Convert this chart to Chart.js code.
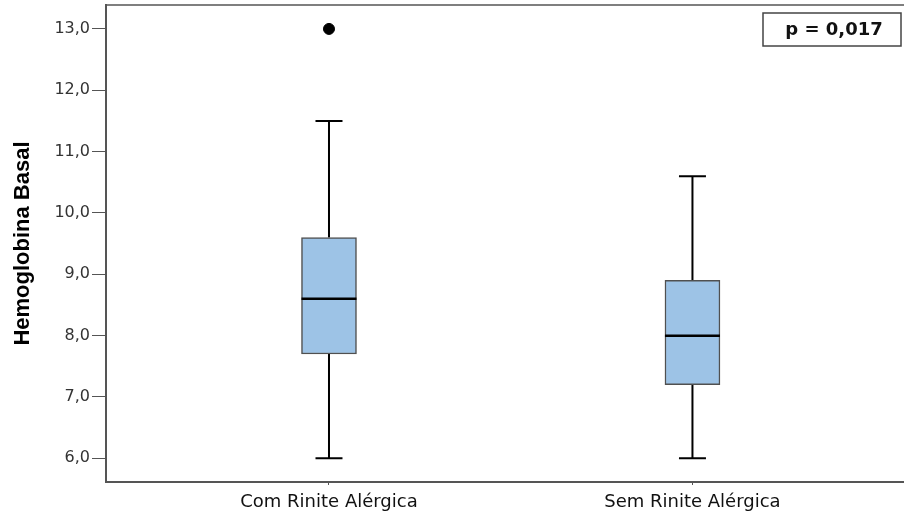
<!DOCTYPE html>
<html>
<head>
<meta charset="utf-8">
<script src="https://cdn.jsdelivr.net/npm/chart.js@4.4.1/dist/chart.umd.min.js"></script>
<style>
  html, body { margin: 0; padding: 0; background: #fff; }
  #wrap { width: 904px; height: 517px; }
</style>
</head>
<body>
<div id="wrap"><canvas id="boxChart" width="904" height="517"></canvas></div>
<script>
// box plot values
const categories = ['Com Rinite Alérgica', 'Sem Rinite Alérgica'];
const whiskerLow = [6.0, 6.0];
const q1 = [7.7, 7.2];
const medians = [8.6, 8.0];
const q3 = [9.6, 8.9];
const whiskerHigh = [11.5, 10.6];
const outliers = [[13.0], []];
const yTicks = [6, 7, 8, 9, 10, 11, 12, 13];
const pValueText = 'p = 0,017';

// whiskers, medians, top frame line and the p-value box
const boxExtras = {
  id: 'boxExtras',
  beforeDatasetsDraw(chart) {
    const { ctx, scales: { x, y } } = chart;
    ctx.save();
    ctx.strokeStyle = '#000';
    ctx.lineWidth = 2;
    categories.forEach((c, i) => {
      const px = x.getPixelForValue(i + 1);
      ctx.beginPath();
      ctx.moveTo(px, y.getPixelForValue(whiskerHigh[i]));
      ctx.lineTo(px, y.getPixelForValue(q3[i]));
      ctx.moveTo(px, y.getPixelForValue(q1[i]));
      ctx.lineTo(px, y.getPixelForValue(whiskerLow[i]));
      [whiskerHigh[i], whiskerLow[i]].forEach(v => {
        const py = y.getPixelForValue(v);
        ctx.moveTo(px - 13.5, py);
        ctx.lineTo(px + 13.5, py);
      });
      ctx.stroke();
    });
    ctx.restore();
  },
  afterDatasetsDraw(chart) {
    const { ctx, scales: { x, y } } = chart;
    const bars = chart.getDatasetMeta(0).data;
    ctx.save();
    ctx.strokeStyle = '#000';
    ctx.lineWidth = 2.5;
    categories.forEach((c, i) => {
      const px = x.getPixelForValue(i + 1);
      const half = bars[i].width / 2;
      const py = y.getPixelForValue(medians[i]);
      ctx.beginPath();
      ctx.moveTo(px - half, py);
      ctx.lineTo(px + half, py);
      ctx.stroke();
    });
    ctx.restore();
  },
  afterDraw(chart) {
    const { ctx, chartArea: a } = chart;
    ctx.save();
    ctx.strokeStyle = '#555';
    ctx.lineWidth = 1.5;
    ctx.beginPath();
    ctx.moveTo(a.left, a.top);
    ctx.lineTo(a.right, a.top);
    ctx.stroke();

    ctx.strokeStyle = '#444';
    ctx.strokeRect(a.right - 141, a.top + 8, 138, 33);
    ctx.fillStyle = '#111';
    ctx.font = 'bold 18px "DejaVu Sans"';
    ctx.textAlign = 'center';
    ctx.textBaseline = 'middle';
    ctx.fillText(pValueText, a.right - 70, a.top + 25);
    ctx.restore();
  }
};

const ctx = document.getElementById('boxChart').getContext('2d');

new Chart(ctx, {
  type: 'bar',
  data: {
    datasets: [
      {
        label: 'IQR',
        data: categories.map((c, i) => ({ x: i + 1, y: [q1[i], q3[i]] })),
        backgroundColor: '#9dc3e6',
        borderColor: '#505050',
        borderWidth: 1.5,
        borderSkipped: false,
        barThickness: 55
      },
      {
        type: 'scatter',
        label: 'Outliers',
        data: outliers.flatMap((list, i) => list.map(v => ({ x: i + 1, y: v }))),
        backgroundColor: '#000',
        borderColor: '#000',
        pointRadius: 5.5,
        pointHoverRadius: 5.5
      }
    ]
  },
  options: {
    responsive: false,
    animation: false,
    devicePixelRatio: 1,
    layout: { autoPadding: false, padding: { top: 5, right: 0, bottom: 0, left: 0 } },
    plugins: {
      legend: { display: false },
      tooltip: { enabled: false }
    },
    scales: {
      x: {
        type: 'linear',
        offset: false,
        min: 0.3865,
        max: 2.582,
        afterBuildTicks: scale => { scale.ticks = categories.map((c, i) => ({ value: i + 1 })); },
        afterFit: scale => { scale.height = 35; scale.paddingLeft = 0; scale.paddingRight = 0; },
        grid: { offset: false, drawOnChartArea: false, drawTicks: true, tickLength: 3, color: '#555' },
        border: { display: true, color: '#555', width: 2 },
        ticks: {
          callback: v => categories[v - 1],
          padding: 7,
          maxRotation: 0,
          color: '#111',
          font: { family: 'DejaVu Sans', size: 18 }
        }
      },
      y: {
        min: 5.614,
        max: 13.39,
        afterBuildTicks: scale => { scale.ticks = yTicks.map(v => ({ value: v })); },
        afterFit: scale => { scale.width = 106; scale.paddingTop = 0; scale.paddingBottom = 0; },
        grid: { drawOnChartArea: false, drawTicks: true, tickLength: 14, color: '#555' },
        border: { display: true, color: '#555', width: 2 },
        ticks: {
          callback: v => v.toFixed(1).replace('.', ','),
          padding: 2,
          color: '#333',
          font: { family: 'DejaVu Sans', size: 16 }
        },
        title: {
          display: true,
          text: 'Hemoglobina Basal',
          color: '#000',
          font: { family: 'Liberation Sans', size: 22, weight: 'bold' },
          padding: { top: 10, bottom: 0 }
        }
      }
    }
  },
  plugins: [boxExtras]
});
</script>
</body>
</html>
